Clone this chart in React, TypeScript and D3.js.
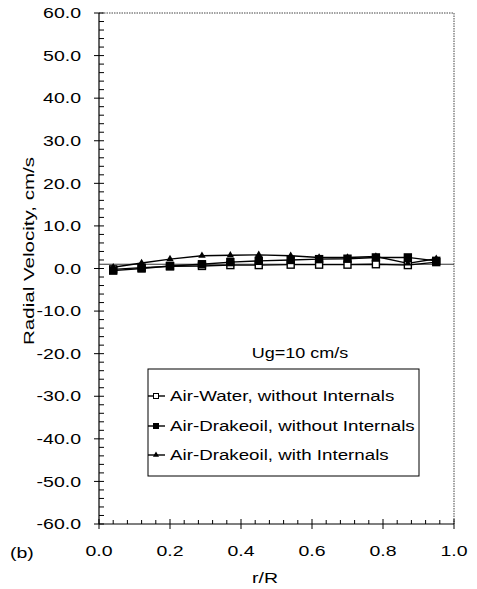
import React, { useEffect, useRef } from 'react';
import { select, scaleLinear, range, line, symbol, symbolTriangle } from 'd3';

const rR = [0.04, 0.12, 0.2, 0.29, 0.37, 0.45, 0.54, 0.62, 0.7, 0.78, 0.87, 0.95];
const airWater = [-0.2, 0.2, 0.5, 0.6, 0.8, 0.8, 0.9, 0.9, 0.9, 1.0, 0.8, 1.5];
const drakeoilNoInt = [-0.5, 0.0, 0.6, 1.0, 1.5, 1.8, 2.0, 2.2, 2.3, 2.6, 2.6, 1.8];
const drakeoilInt = [0.3, 1.3, 2.2, 3.0, 3.1, 3.2, 3.0, 2.6, 2.6, 2.8, 1.2, 2.3];
const seriesNames = [
  'Air-Water, without Internals',
  'Air-Drakeoil, without Internals',
  'Air-Drakeoil, with Internals',
];
const yTicks = range(-60, 61, 10);
const xTicks = [0, 0.2, 0.4, 0.6, 0.8, 1.0];
const refLevel = 1;

const W = 477;
const H = 589;

// the scanned type is wide; stretch it horizontally
const stretch = (sel: any, sx: number, origin: string) =>
  sel
    .style('transform-box', 'fill-box')
    .style('transform-origin', origin)
    .style('transform', `scaleX(${sx})`);

export default function App() {
  const svgRef = useRef<SVGSVGElement>(null);

  useEffect(() => {
    const svg = select(svgRef.current);
    svg.selectAll('*').remove();
    const font = '"Liberation Sans", Arial, sans-serif';
    const fs = 15;

    const x = scaleLinear().domain([0, 1]).range([99, 454]);
    const y = scaleLinear().domain([-60, 60]).range([524, 13]);
    const [x0, x1] = x.range();
    const [y0, y1] = y.range();

    // frame: top and right dotted
    svg.append('line').attr('x1', x0).attr('x2', x1).attr('y1', y1).attr('y2', y1)
      .attr('stroke', '#444').attr('stroke-dasharray', '1.5,1');
    svg.append('line').attr('x1', x1).attr('x2', x1).attr('y1', y1).attr('y2', y0)
      .attr('stroke', '#444').attr('stroke-dasharray', '1.5,1');
    svg.append('line').attr('x1', x0).attr('x2', x0).attr('y1', y1).attr('y2', y0)
      .attr('stroke', '#000').attr('stroke-width', 1.2);
    svg.append('line').attr('x1', x0).attr('x2', x1).attr('y1', y0).attr('y2', y0)
      .attr('stroke', '#000').attr('stroke-width', 1.2);

    // ticks
    const ax = svg.append('g').attr('stroke', '#000');
    range(-60, 60.1, 2).forEach((v) => {
      const major = Math.abs(v % 10) < 1e-6;
      ax.append('line').attr('x1', major ? x0 - 5 : x0).attr('x2', x0 + 5)
        .attr('y1', y(v)).attr('y2', y(v)).attr('stroke-width', 1);
    });
    range(0, 1.0001, 0.04).forEach((v) => {
      const major = Math.abs((v * 5) - Math.round(v * 5)) < 1e-6;
      ax.append('line').attr('x1', x(v)).attr('x2', x(v))
        .attr('y1', y0 - (major ? 5 : 4)).attr('y2', major ? y0 + 5 : y0).attr('stroke-width', 1);
    });

    stretch(svg.selectAll('.ylab').data(yTicks).join('text')
      .attr('x', 81).attr('y', (d) => y(d)).attr('dy', '0.35em')
      .attr('text-anchor', 'end').attr('font-family', font).attr('font-size', fs)
      .text((d) => d.toFixed(1)), 1.3, 'right center');
    stretch(svg.selectAll('.xlab').data(xTicks).join('text')
      .attr('x', (d) => x(d)).attr('y', 556)
      .attr('text-anchor', 'middle').attr('font-family', font).attr('font-size', fs)
      .text((d) => d.toFixed(1)), 1.3, 'center');

    stretch(svg.append('text').attr('x', 265).attr('y', 583).attr('text-anchor', 'middle')
      .attr('font-family', font).attr('font-size', fs).text('r/R'), 1.3, 'center');
    stretch(svg.append('text').attr('x', 10).attr('y', 558)
      .attr('font-family', font).attr('font-size', fs).text('(b)'), 1.3, 'left center');
    stretch(svg.append('g').attr('transform', `translate(34,251) rotate(-90)`)
      .append('text')
      .attr('text-anchor', 'middle').attr('font-family', font).attr('font-size', fs)
      .text('Radial Velocity, cm/s'), 1.37, 'center');
    stretch(svg.append('text').attr('x', 300).attr('y', 358).attr('text-anchor', 'middle')
      .attr('font-family', font).attr('font-size', fs).text('Ug=10 cm/s'), 1.2, 'center');

    // reference line
    svg.append('line').attr('x1', x0).attr('x2', x1).attr('y1', y(refLevel)).attr('y2', y(refLevel))
      .attr('stroke', '#333').attr('stroke-width', 1);

    const series = [airWater, drakeoilNoInt, drakeoilInt];
    const lineGen = line<number>().x((_, i) => x(rR[i])).y((d) => y(d));
    const tri = symbol().type(symbolTriangle).size(24);

    const drawMarker = (g: any, k: number, cx: number, cy: number) => {
      if (k === 2) {
        g.append('path').attr('d', tri()).attr('transform', `translate(${cx},${cy})`)
          .attr('fill', '#000');
      } else {
        g.append('rect').attr('x', cx - 3.5).attr('y', cy - 3.5).attr('width', 7).attr('height', 7)
          .attr('fill', k === 0 ? '#fff' : '#000').attr('stroke', '#000').attr('stroke-width', 1.4);
      }
    };

    series.forEach((vals) => {
      svg.append('path').attr('d', lineGen(vals)).attr('fill', 'none')
        .attr('stroke', '#000').attr('stroke-width', 1.4);
    });
    series.forEach((vals, k) => {
      const g = svg.append('g');
      vals.forEach((v, i) => drawMarker(g, k, x(rR[i]), y(v)));
    });

    // legend
    const lg = svg.append('g');
    lg.append('rect').attr('x', 148).attr('y', 369).attr('width', 271).attr('height', 107)
      .attr('fill', '#fff').attr('stroke', '#000').attr('stroke-width', 1);
    const rows = [396, 426, 455];
    seriesNames.forEach((name, k) => {
      const ry = rows[k];
      lg.append('line').attr('x1', 148).attr('x2', 165).attr('y1', ry).attr('y2', ry)
        .attr('stroke', '#000').attr('stroke-width', 1.4);
      if (k === 2) {
        lg.append('path').attr('d', symbol().type(symbolTriangle).size(16)())
          .attr('transform', `translate(156,${ry})`).attr('fill', '#000');
      } else {
        lg.append('rect').attr('x', 153.5).attr('y', ry - 2.5).attr('width', 5).attr('height', 5)
          .attr('fill', k === 0 ? '#fff' : '#000').attr('stroke', '#000').attr('stroke-width', 1);
      }
      stretch(lg.append('text').attr('x', 170).attr('y', ry).attr('dy', '0.35em')
        .attr('font-family', font).attr('font-size', fs).text(name), 1.25, 'left center');
    });
  }, []);

  return (
    <svg ref={svgRef} width={W} height={H}
      style={{ position: 'absolute', left: 0, top: 0, background: '#fff' }} />
  );
}
